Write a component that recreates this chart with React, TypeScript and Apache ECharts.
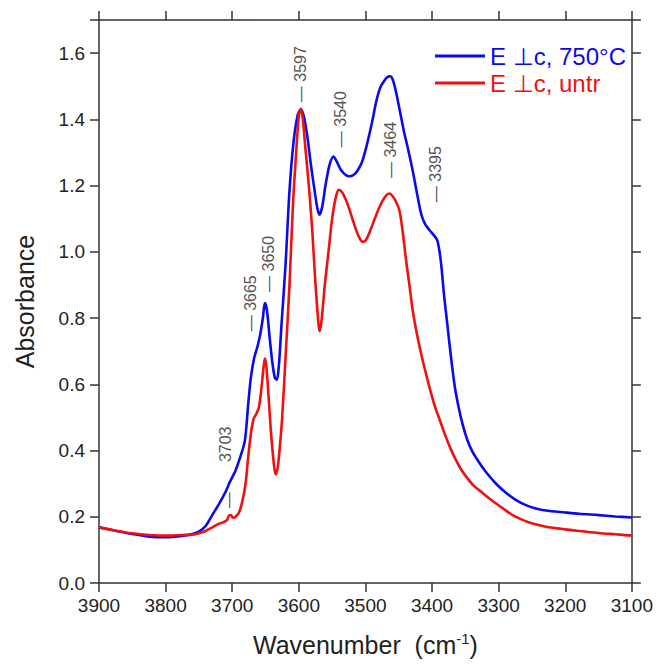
import React, { useEffect, useRef } from 'react';
import * as echarts from 'echarts';

// Wavenumber (cm-1) and absorbance, E⊥c after 750°C
const blueWave = [3900, 3875, 3850, 3825, 3800, 3775, 3760, 3750, 3740, 3730, 3720, 3710, 3704, 3695, 3688, 3681, 3676, 3672, 3667, 3662, 3658, 3654, 3651, 3648, 3644, 3640, 3636, 3633, 3630, 3626, 3620, 3614, 3608, 3602, 3597, 3592, 3587, 3582, 3576, 3572, 3569, 3565, 3560, 3554, 3548, 3543, 3537, 3530, 3524, 3518, 3512, 3505, 3498, 3490, 3484, 3478, 3472, 3467, 3463, 3459, 3454, 3448, 3442, 3436, 3429, 3422, 3416, 3410, 3404, 3398, 3392, 3387, 3382, 3377, 3372, 3366, 3360, 3354, 3347, 3339, 3328, 3319, 3305, 3290, 3275, 3259, 3244, 3229, 3200, 3179, 3150, 3125, 3100];
const blueAbs = [0.168, 0.158, 0.148, 0.140, 0.138, 0.142, 0.148, 0.155, 0.172, 0.205, 0.238, 0.275, 0.303, 0.340, 0.380, 0.430, 0.540, 0.620, 0.680, 0.715, 0.750, 0.800, 0.845, 0.825, 0.745, 0.670, 0.620, 0.614, 0.655, 0.780, 0.960, 1.185, 1.330, 1.410, 1.430, 1.405, 1.345, 1.265, 1.180, 1.130, 1.112, 1.135, 1.200, 1.262, 1.288, 1.272, 1.248, 1.233, 1.228, 1.232, 1.245, 1.272, 1.322, 1.392, 1.452, 1.495, 1.516, 1.528, 1.530, 1.520, 1.482, 1.422, 1.362, 1.310, 1.245, 1.170, 1.112, 1.082, 1.066, 1.052, 1.034, 0.975, 0.870, 0.780, 0.690, 0.595, 0.530, 0.478, 0.432, 0.395, 0.360, 0.335, 0.302, 0.274, 0.252, 0.235, 0.225, 0.219, 0.213, 0.209, 0.205, 0.201, 0.198];

// E⊥c, untreated
const redWave = [3900, 3875, 3850, 3825, 3800, 3775, 3760, 3750, 3740, 3730, 3722, 3714, 3708, 3705, 3702, 3699, 3695, 3690, 3685, 3680, 3676, 3672, 3668, 3664, 3660, 3656, 3653, 3651, 3649, 3646, 3642, 3638, 3635, 3632, 3629, 3625, 3620, 3614, 3609, 3604, 3600, 3597, 3594, 3590, 3585, 3580, 3576, 3572, 3569, 3566, 3561, 3556, 3550, 3545, 3540, 3535, 3530, 3524, 3518, 3512, 3507, 3503, 3498, 3492, 3486, 3480, 3474, 3468, 3464, 3460, 3455, 3449, 3444, 3439, 3434, 3429, 3422, 3414, 3405, 3396, 3388, 3380, 3372, 3365, 3357, 3349, 3338, 3324, 3314, 3304, 3290, 3279, 3266, 3254, 3240, 3229, 3200, 3179, 3150, 3125, 3100];
const redAbs = [0.168, 0.158, 0.150, 0.145, 0.143, 0.145, 0.146, 0.150, 0.157, 0.168, 0.177, 0.183, 0.190, 0.203, 0.205, 0.197, 0.200, 0.212, 0.245, 0.300, 0.380, 0.450, 0.495, 0.510, 0.530, 0.590, 0.650, 0.678, 0.660, 0.580, 0.460, 0.370, 0.328, 0.345, 0.400, 0.500, 0.680, 0.900, 1.135, 1.300, 1.410, 1.432, 1.400, 1.310, 1.200, 1.070, 0.935, 0.820, 0.760, 0.790, 0.900, 0.990, 1.100, 1.160, 1.187, 1.180, 1.160, 1.128, 1.090, 1.055, 1.035, 1.030, 1.040, 1.068, 1.100, 1.130, 1.155, 1.172, 1.176, 1.170, 1.155, 1.125, 1.060, 0.975, 0.900, 0.823, 0.745, 0.672, 0.600, 0.535, 0.490, 0.445, 0.405, 0.375, 0.345, 0.322, 0.295, 0.272, 0.255, 0.240, 0.220, 0.205, 0.192, 0.183, 0.175, 0.170, 0.162, 0.157, 0.151, 0.147, 0.143];

const seriesNames = ['E ⊥c, 750°C', 'E ⊥c, untr'];
const seriesColors = ['#0a0af0', '#f01010'];

// Peak annotations: text, and the wavenumber/absorbance where the rotated label starts
const annotText = ['— 3597', '— 3540', '— 3464', '— 3395', '— 3650', '— 3665', '3703', '—'];
const annotWave = [3597, 3537, 3462, 3395, 3645, 3672, 3710, 3705];
const annotAbs = [1.452, 1.316, 1.223, 1.150, 0.879, 0.760, 0.365, 0.226];

const xTicks = { min: 3100, max: 3900, interval: 100 };
const yTicks = { min: 0, max: 1.7, interval: 0.2 };

const FONT = '"Liberation Sans", Arial, Helvetica, sans-serif';

export default function App() {
  const ref = useRef<HTMLDivElement>(null);
  useEffect(() => {
    const chart = echarts.init(ref.current!, null, { renderer: 'svg' });
    const axisLine = { show: true, onZero: false, lineStyle: { color: '#333', width: 1.5 } };
    const axisTick = { show: true, inside: false, length: 9, lineStyle: { color: '#333', width: 1.5 } };
    const toPairs = (w: number[], a: number[]) => w.map((v, i) => [v, a[i]]);
    chart.setOption({
      animation: false,
      textStyle: { fontFamily: FONT },
      grid: { left: 99, right: 23, top: 20, bottom: 81, containLabel: false },
      legend: {
        orient: 'vertical',
        left: 430,
        top: 39,
        icon: 'rect',
        itemWidth: 50,
        itemHeight: 3,
        itemGap: 3,
        textStyle: { fontSize: 24, lineHeight: 24, fontFamily: FONT },
        data: seriesNames.map((n, i) => ({ name: n, textStyle: { color: seriesColors[i] } })),
      },
      xAxis: [
        {
          type: 'value', inverse: true, ...xTicks, position: 'bottom',
          axisLine, axisTick, splitLine: { show: false },
          axisLabel: { fontSize: 19, color: '#222', margin: 13, fontFamily: FONT, formatter: (v: number) => String(v) },
          name: '{a|Wavenumber  (cm}{s|-1}{a|)}',
          nameLocation: 'middle',
          nameGap: 48,
          nameTextStyle: {
            rich: {
              a: { fontSize: 25, color: '#222', fontFamily: FONT, lineHeight: 28 },
              s: { fontSize: 15, color: '#222', fontFamily: FONT, verticalAlign: 'top', lineHeight: 28 },
            },
          },
        },
        {
          type: 'value', inverse: true, ...xTicks, position: 'top',
          axisLine, axisTick, splitLine: { show: false }, axisLabel: { show: false },
        },
      ],
      yAxis: [
        {
          type: 'value', ...yTicks, position: 'left',
          axisLine, axisTick, splitLine: { show: false },
          axisLabel: {
            fontSize: 19, color: '#222', margin: 14, fontFamily: FONT,
            formatter: (v: number) => (v > 1.65 ? '' : v.toFixed(1)),
          },
          name: 'Absorbance',
          nameLocation: 'middle',
          nameGap: 62,
          nameTextStyle: { fontSize: 25, color: '#222', fontFamily: FONT },
        },
        {
          type: 'value', ...yTicks, position: 'right',
          axisLine, axisTick, splitLine: { show: false }, axisLabel: { show: false },
        },
      ],
      series: [
        {
          name: seriesNames[0], type: 'line', data: toPairs(blueWave, blueAbs),
          symbol: 'none', showSymbol: false, smooth: 0.3,
          lineStyle: { color: seriesColors[0], width: 2.6 }, itemStyle: { color: seriesColors[0] }, z: 3,
        },
        {
          name: seriesNames[1], type: 'line', data: toPairs(redWave, redAbs),
          symbol: 'none', showSymbol: false, smooth: 0.3,
          lineStyle: { color: seriesColors[1], width: 2.6 }, itemStyle: { color: seriesColors[1] }, z: 4,
        },
      ],
    });
    const graphics = annotText.map((t, i) => {
      const p = chart.convertToPixel({ xAxisIndex: 0, yAxisIndex: 0 }, [annotWave[i], annotAbs[i]]) as number[];
      return {
        type: 'text',
        x: p[0],
        y: p[1],
        rotation: Math.PI / 2,
        silent: true,
        style: {
          text: t,
          fill: '#555',
          fontSize: 16,
          fontFamily: FONT,
          align: 'left',
          verticalAlign: 'middle',
          textAlign: 'left',
          textVerticalAlign: 'middle',
        },
      };
    });
    chart.setOption({ graphic: graphics });
    return () => chart.dispose();
  }, []);
  return <div ref={ref} style={{ position: 'fixed', left: 0, top: 0, width: 656, height: 664, background: '#fff' }} />;
}
